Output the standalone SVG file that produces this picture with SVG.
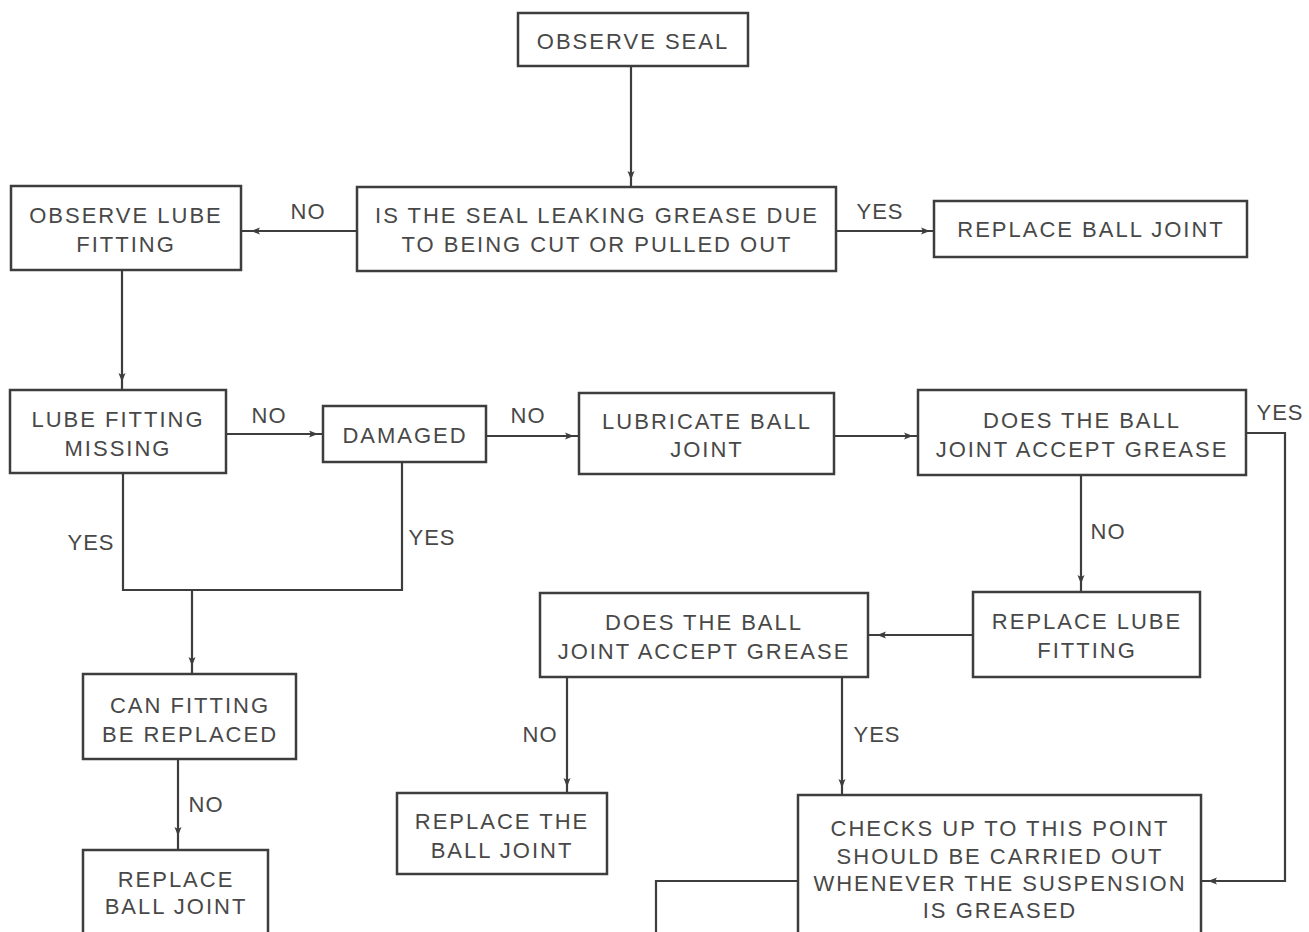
<svg xmlns="http://www.w3.org/2000/svg" xmlns:xlink="http://www.w3.org/1999/xlink" width="1309" height="932" viewBox="0 0 1309 932">
<style>
.box{fill:#fff;stroke:#3d3d3d;stroke-width:2.5}
.t{font-family:"Liberation Sans",Arial,sans-serif;font-size:22px;letter-spacing:2px;fill:#484848;text-anchor:middle}
.lbl{font-family:"Liberation Sans",Arial,sans-serif;font-size:22px;letter-spacing:1px;fill:#484848;text-anchor:middle}
.c{fill:none;stroke:#3d3d3d;stroke-width:2.2}
.ah{fill:#3d3d3d}
</style>
<defs>
<path id="ah" d="M0,0 L-9,-3.5 L-7,0 L-9,3.5 Z"/>
</defs>
<rect width="1309" height="932" fill="#fff"/>
<g id="connectors">
<path class="c" d="M631,66 V187"/>
<use class="ah" xlink:href="#ah" transform="translate(631,180) rotate(90)"/>
<path class="c" d="M357,231 H241"/>
<use class="ah" xlink:href="#ah" transform="translate(251,231) rotate(180)"/>
<text class="lbl" x="308" y="219">NO</text>
<path class="c" d="M836,231 H934"/>
<use class="ah" xlink:href="#ah" transform="translate(930,231)"/>
<text class="lbl" x="880" y="219">YES</text>
<path class="c" d="M122,270 V390"/>
<use class="ah" xlink:href="#ah" transform="translate(122,382) rotate(90)"/>
<path class="c" d="M226,434 H323"/>
<use class="ah" xlink:href="#ah" transform="translate(318,434)"/>
<text class="lbl" x="269" y="423">NO</text>
<path class="c" d="M486,436 H579"/>
<use class="ah" xlink:href="#ah" transform="translate(574,436)"/>
<text class="lbl" x="528" y="423">NO</text>
<path class="c" d="M834,436 H918"/>
<use class="ah" xlink:href="#ah" transform="translate(913,436)"/>
<path class="c" d="M123,473 V590 H402 V462"/>
<text class="lbl" x="91" y="550">YES</text>
<text class="lbl" x="432" y="545">YES</text>
<path class="c" d="M192,590 V674"/>
<use class="ah" xlink:href="#ah" transform="translate(192,666) rotate(90)"/>
<path class="c" d="M1246,433 H1285 V881 H1201"/>
<use class="ah" xlink:href="#ah" transform="translate(1208,881) rotate(180)"/>
<text class="lbl" x="1280" y="420">YES</text>
<path class="c" d="M1081,475 V592"/>
<use class="ah" xlink:href="#ah" transform="translate(1081,584) rotate(90)"/>
<text class="lbl" x="1108" y="539">NO</text>
<path class="c" d="M973,635 H868"/>
<use class="ah" xlink:href="#ah" transform="translate(877,635) rotate(180)"/>
<path class="c" d="M567,677 V793"/>
<use class="ah" xlink:href="#ah" transform="translate(567,787) rotate(90)"/>
<text class="lbl" x="540" y="742">NO</text>
<path class="c" d="M842,677 V795"/>
<use class="ah" xlink:href="#ah" transform="translate(842,788) rotate(90)"/>
<text class="lbl" x="877" y="742">YES</text>
<path class="c" d="M178,759 V850"/>
<use class="ah" xlink:href="#ah" transform="translate(178,836) rotate(90)"/>
<text class="lbl" x="206" y="812">NO</text>
<path class="c" d="M798,881 H656 V940"/>
</g>
<g id="observe-seal">
<rect class="box" x="518" y="13" width="230" height="53"/>
<text class="t" x="633" y="49">OBSERVE SEAL</text>
</g>
<g id="seal-leaking">
<rect class="box" x="357" y="187" width="479" height="84"/>
<text class="t" x="597" y="223">IS THE SEAL LEAKING GREASE DUE</text>
<text class="t" x="597" y="252">TO BEING CUT OR PULLED OUT</text>
</g>
<g id="observe-lube">
<rect class="box" x="11" y="186" width="230" height="84"/>
<text class="t" x="126" y="223">OBSERVE LUBE</text>
<text class="t" x="126" y="252">FITTING</text>
</g>
<g id="replace-ball-joint-1">
<rect class="box" x="934" y="201" width="313" height="56"/>
<text class="t" x="1091" y="237">REPLACE BALL JOINT</text>
</g>
<g id="lube-missing">
<rect class="box" x="10" y="390" width="216" height="83"/>
<text class="t" x="118" y="427">LUBE FITTING</text>
<text class="t" x="118" y="456">MISSING</text>
</g>
<g id="damaged">
<rect class="box" x="323" y="406" width="163" height="56"/>
<text class="t" x="405" y="443">DAMAGED</text>
</g>
<g id="lubricate">
<rect class="box" x="579" y="393" width="255" height="81"/>
<text class="t" x="707" y="429">LUBRICATE BALL</text>
<text class="t" x="707" y="457">JOINT</text>
</g>
<g id="accept-grease-1">
<rect class="box" x="918" y="390" width="328" height="85"/>
<text class="t" x="1082" y="428">DOES THE BALL</text>
<text class="t" x="1082" y="457">JOINT ACCEPT GREASE</text>
</g>
<g id="replace-lube">
<rect class="box" x="973" y="592" width="227" height="85"/>
<text class="t" x="1087" y="629">REPLACE LUBE</text>
<text class="t" x="1087" y="658">FITTING</text>
</g>
<g id="accept-grease-2">
<rect class="box" x="540" y="593" width="328" height="84"/>
<text class="t" x="704" y="630">DOES THE BALL</text>
<text class="t" x="704" y="659">JOINT ACCEPT GREASE</text>
</g>
<g id="can-fitting">
<rect class="box" x="83" y="674" width="213" height="85"/>
<text class="t" x="190" y="713">CAN FITTING</text>
<text class="t" x="190" y="742">BE REPLACED</text>
</g>
<g id="replace-the-ball-joint">
<rect class="box" x="397" y="793" width="210" height="81"/>
<text class="t" x="502" y="829">REPLACE THE</text>
<text class="t" x="502" y="858">BALL JOINT</text>
</g>
<g id="checks">
<rect class="box" x="798" y="795" width="403" height="150"/>
<text class="t" x="1000" y="836">CHECKS UP TO THIS POINT</text>
<text class="t" x="1000" y="864">SHOULD BE CARRIED OUT</text>
<text class="t" x="1000" y="891">WHENEVER THE SUSPENSION</text>
<text class="t" x="1000" y="918">IS GREASED</text>
</g>
<g id="replace-ball-joint-2">
<rect class="box" x="83" y="850" width="185" height="95"/>
<text class="t" x="176" y="887">REPLACE</text>
<text class="t" x="176" y="914">BALL JOINT</text>
</g>
</svg>
